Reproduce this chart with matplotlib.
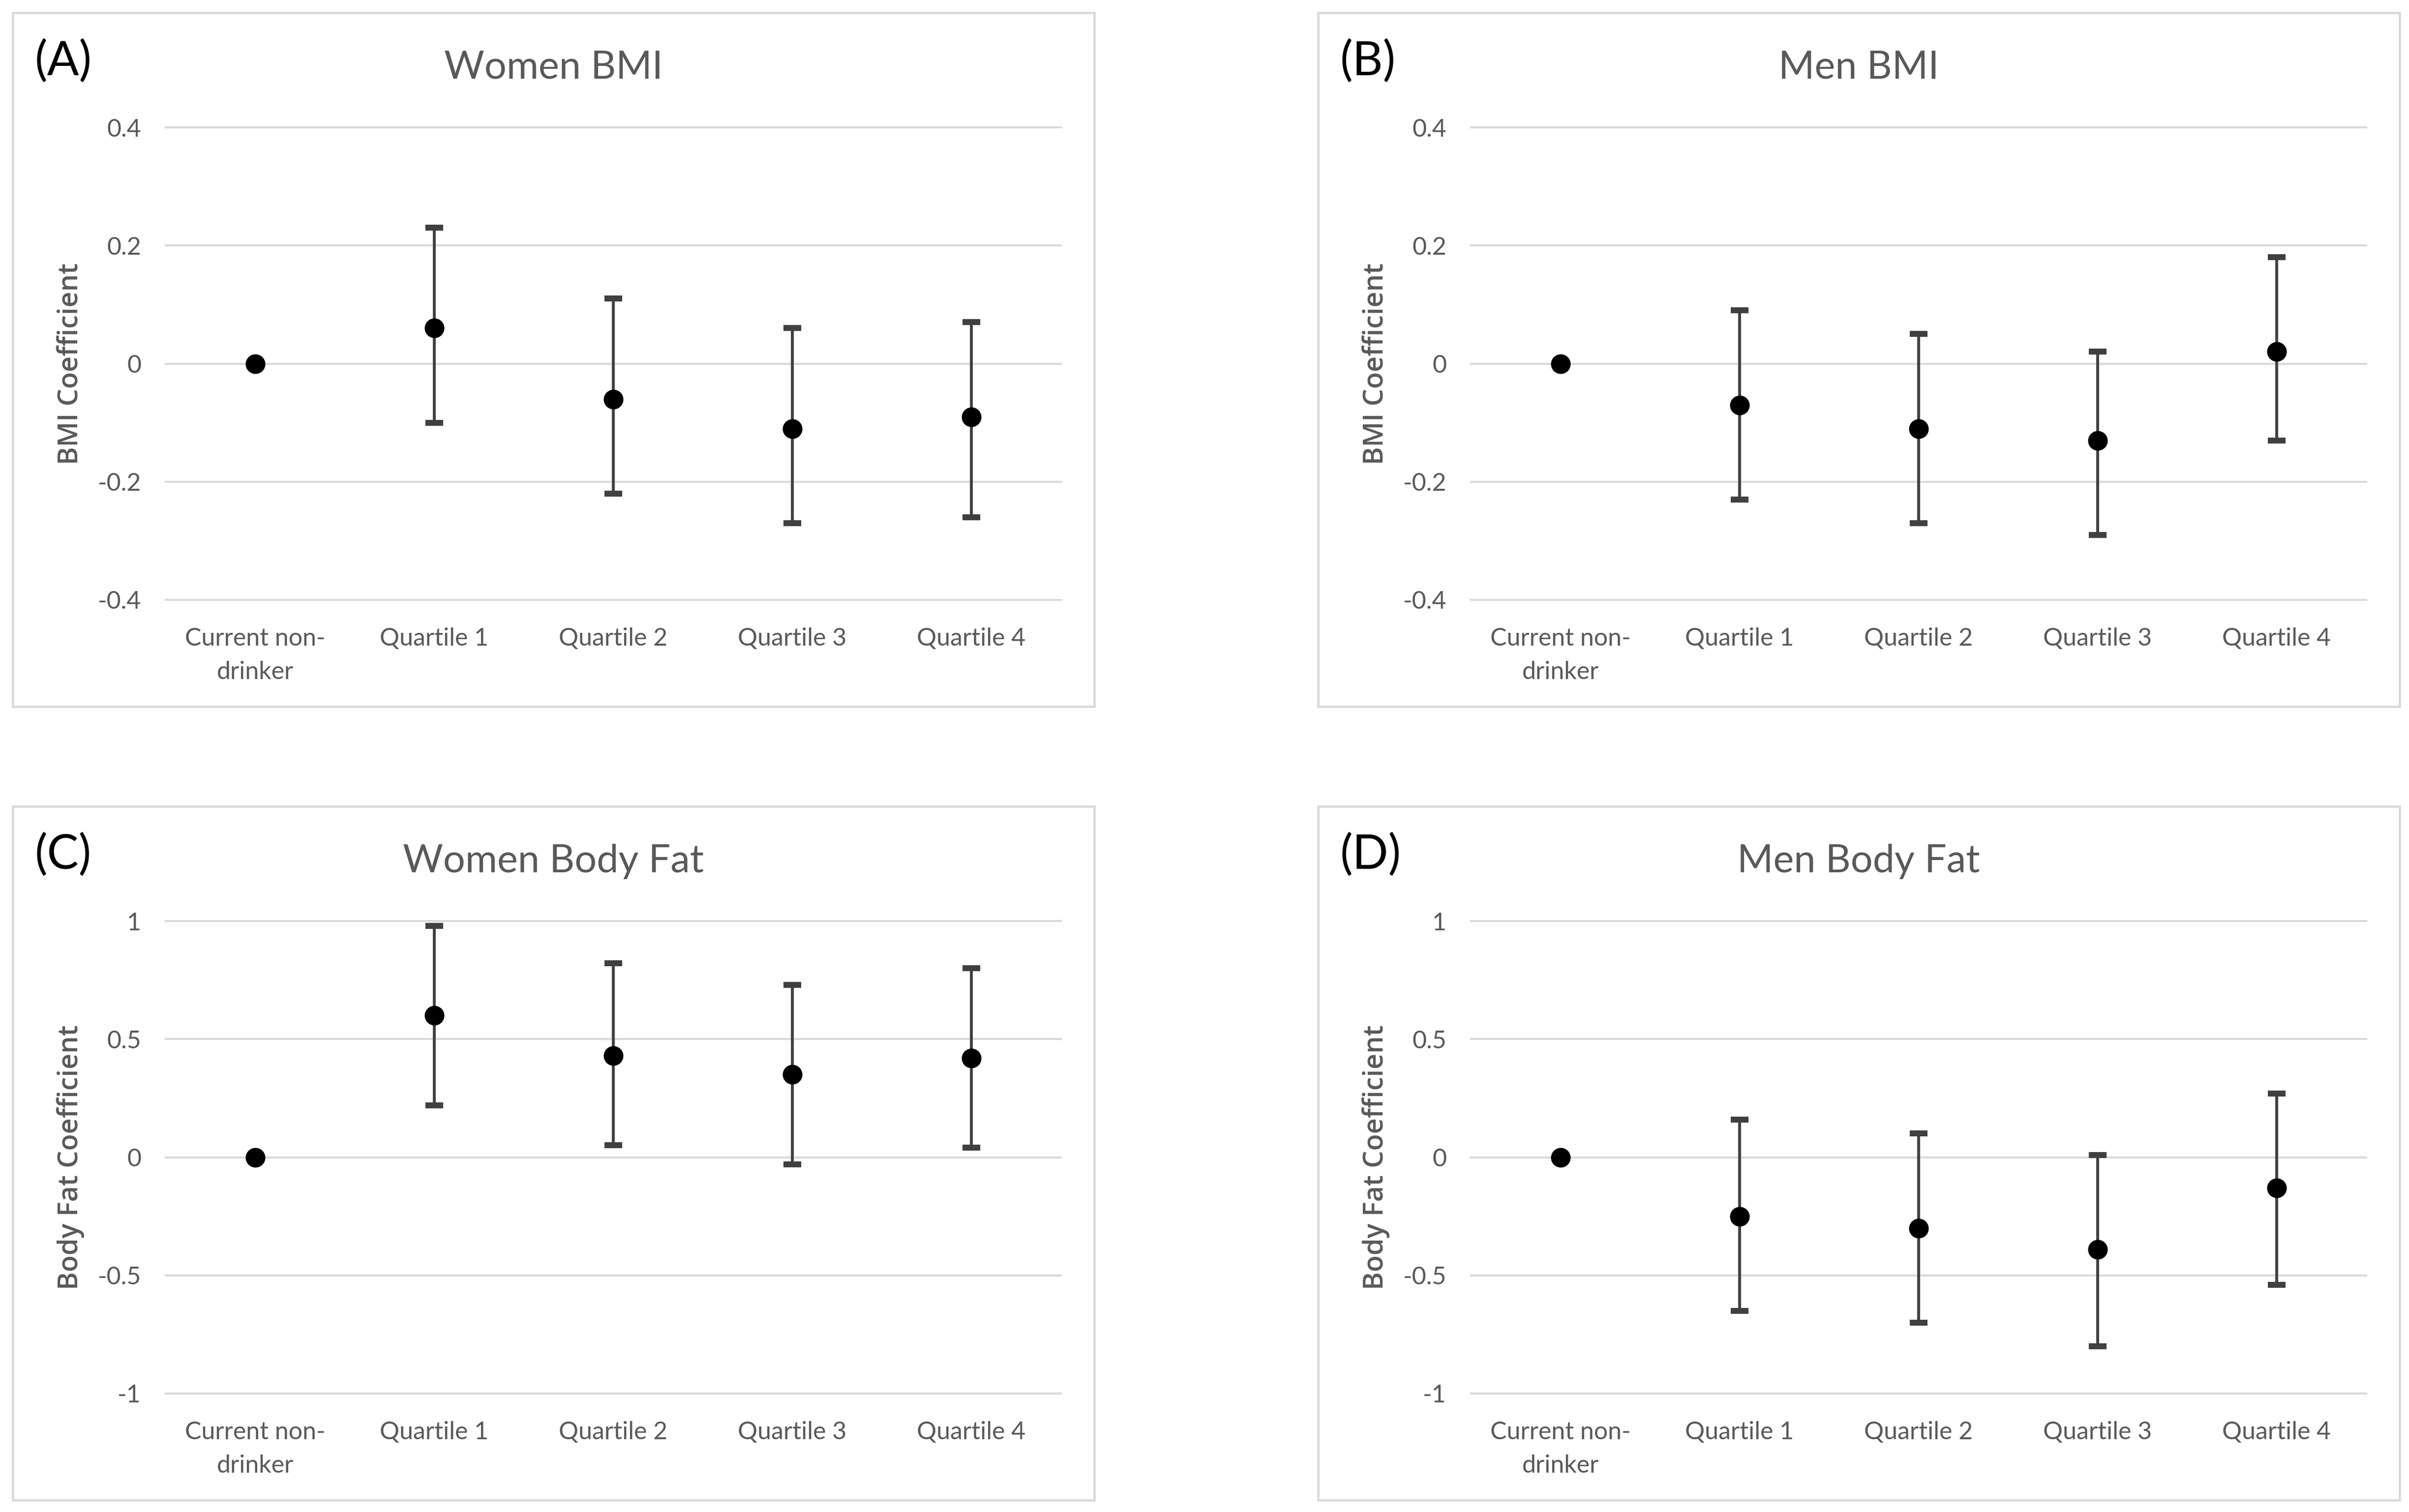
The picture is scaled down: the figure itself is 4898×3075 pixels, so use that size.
import numpy as np
import matplotlib
matplotlib.use("Agg")
import matplotlib.pyplot as plt
from matplotlib.patches import Rectangle

categories = ["Current non-\ndrinker", "Quartile 1", "Quartile 2", "Quartile 3", "Quartile 4"]

# coefficient, lower CI, upper CI (first category is the reference, no CI)
women_bmi = [0, 0.06, -0.06, -0.11, -0.09]
women_bmi_lo = [0, -0.10, -0.22, -0.27, -0.26]
women_bmi_hi = [0, 0.23, 0.11, 0.06, 0.07]

men_bmi = [0, -0.07, -0.11, -0.13, 0.02]
men_bmi_lo = [0, -0.23, -0.27, -0.29, -0.13]
men_bmi_hi = [0, 0.09, 0.05, 0.02, 0.18]

women_fat = [0, 0.60, 0.43, 0.35, 0.42]
women_fat_lo = [0, 0.22, 0.05, -0.03, 0.04]
women_fat_hi = [0, 0.98, 0.82, 0.73, 0.80]

men_fat = [0, -0.25, -0.30, -0.39, -0.13]
men_fat_lo = [0, -0.65, -0.70, -0.80, -0.54]
men_fat_hi = [0, 0.16, 0.10, 0.01, 0.27]

bmi_ticks = [-0.4, -0.2, 0, 0.2, 0.4]
bmi_ticklabels = ["-0.4", "-0.2", "0", "0.2", "0.4"]
fat_ticks = [-1, -0.5, 0, 0.5, 1]
fat_ticklabels = ["-1", "-0.5", "0", "0.5", "1"]

W, H = 4898, 3075
fig = plt.figure(figsize=(W / 300, H / 300), dpi=300)
fig.patch.set_facecolor("white")

grey = "#595959"
gridc = "#d9d9d9"

panels = [
    ("(A)", "Women BMI", "BMI Coefficient", women_bmi, women_bmi_lo, women_bmi_hi, bmi_ticks, bmi_ticklabels, 26, 26),
    ("(B)", "Men BMI", "BMI Coefficient", men_bmi, men_bmi_lo, men_bmi_hi, bmi_ticks, bmi_ticklabels, 2680, 26),
    ("(C)", "Women Body Fat", "Body Fat Coefficient", women_fat, women_fat_lo, women_fat_hi, fat_ticks, fat_ticklabels, 26, 1640),
    ("(D)", "Men Body Fat", "Body Fat Coefficient", men_fat, men_fat_lo, men_fat_hi, fat_ticks, fat_ticklabels, 2680, 1640),
]

box_w, box_h = 2199, 1411

for letter, title, ylabel, val, lo, hi, ticks, ticklabels, bx, by in panels:
    # outer chart box (pixel coords -> figure fraction)
    fig.patches.append(Rectangle((bx / W, 1 - (by + box_h) / H), box_w / W, box_h / H,
                                 transform=fig.transFigure, fill=False,
                                 edgecolor=gridc, linewidth=1.1))

    ax_left = bx + 311
    ax_top = by + 233
    ax_bottom = by + box_h - 217
    ax = fig.add_axes([ax_left / W, 1 - ax_bottom / H, 1820 / W, (ax_bottom - ax_top) / H])

    x = np.arange(len(categories))
    val = np.array(val)
    lo = np.array(lo)
    hi = np.array(hi)

    for t in ticks:
        ax.axhline(t, color=gridc, linewidth=1.0, zorder=0, clip_on=False)

    line, caps, bars = ax.errorbar(x[1:], val[1:], yerr=[val[1:] - lo[1:], hi[1:] - val[1:]],
                                   fmt="none", ecolor="#404040", elinewidth=1.4,
                                   capsize=4.3, capthick=2.9, zorder=2)
    for c in caps:
        c.set_color("black")
    ax.plot(x, val, "o", color="black", markersize=8.6, zorder=3, clip_on=False)

    ax.set_xlim(-0.5, len(categories) - 0.5)
    ax.set_ylim(ticks[0], ticks[-1])
    ax.set_xticks(x)
    ax.set_xticklabels(categories, fontfamily="Lato", fontsize=12, color=grey, linespacing=1.6)
    ax.set_yticks(ticks)
    ax.set_yticklabels(ticklabels, fontfamily="Lato", fontsize=12, color=grey)
    ax.tick_params(axis="both", length=0)
    ax.tick_params(axis="x", pad=13.5)
    ax.tick_params(axis="y", pad=12)
    for s in ax.spines.values():
        s.set_visible(False)

    ax.set_ylabel(ylabel, fontfamily="Open Sans", fontsize=13.4, color=grey,
                  fontweight="semibold", va="center")
    ax.yaxis.set_label_coords((bx + 118 - ax_left) / 1820, 0.5)

    fig.text((bx + 1099) / W, 1 - (by + 134) / H, title, fontfamily="Lato", fontsize=19,
             color=grey, ha="center", va="baseline")
    fig.text((bx + 45) / W, 1 - (by + 127) / H, letter, fontfamily="Lato", fontsize=23,
             color="black", ha="left", va="baseline")

fig.savefig("out.png", dpi=300, facecolor="white")
